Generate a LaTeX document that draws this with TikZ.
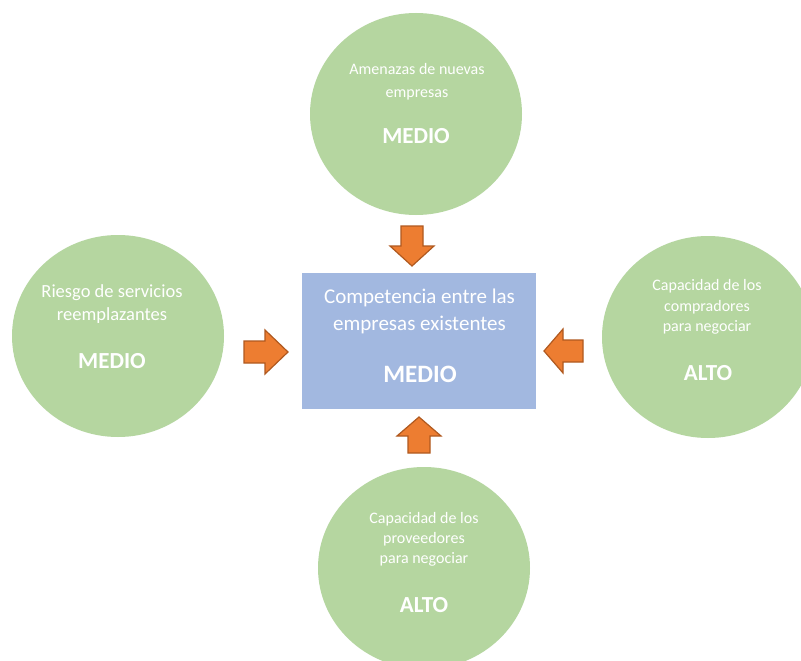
\documentclass[tikz,border=0pt]{standalone}
\usepackage{fontspec}
\setmainfont{Carlito}
\usetikzlibrary{shapes.geometric}
\definecolor{cgreen}{HTML}{B5D6A0}
\definecolor{cblue}{HTML}{A2B8E0}
\definecolor{corange}{HTML}{ED7D31}
\definecolor{cborder}{HTML}{B0591F}
\begin{document}
\begin{tikzpicture}[x=1pt,y=-1pt,
  force/.style={ellipse, fill=cgreen, minimum width=212pt, minimum height=202pt, inner sep=0pt},
  core/.style={rectangle, fill=cblue, minimum width=234pt, minimum height=136pt, inner sep=0pt},
  lbl/.style={text=white, anchor=base, inner sep=0pt},
  small/.style={lbl, font=\fontsize{16}{19}\selectfont},
  smallL/.style={lbl, font=\fontsize{18.5}{22}\selectfont},
  mid/.style={lbl, font=\fontsize{21}{25}\selectfont},
  big/.style={lbl, font=\fontsize{23}{27}\selectfont\bfseries},
  bigc/.style={lbl, font=\fontsize{25}{29}\selectfont\bfseries},
  blockarrow/.style={fill=corange, draw=cborder, line width=1.2pt, line join=miter}]
\clip (0,0) rectangle (801,661);
\fill[white] (0,0) rectangle (801,661);
% shapes
\node[force] (top) at (416,114) {};
\node[force] (left) at (118,336) {};
\node[force] (right) at (708,337) {};
\node[force] (bottom) at (424,568) {};
\node[core] (center) at (419,341) {};
% top texts
\node[small] (t1) at (417,75) {Amenazas de nuevas};
\node[small] (t2) at (417,97) {empresas};
\node[big] (t3) at (416,143) {MEDIO};
% left texts
\node[smallL] (l1) at (112,297) {Riesgo de servicios};
\node[smallL] (l2) at (112,320) {reemplazantes};
\node[big] (l3) at (112,368) {MEDIO};
% right texts
\node[small] (r1) at (707,290) {Capacidad de los};
\node[small] (r2) at (707,311) {compradores};
\node[small] (r3) at (707,331) {para negociar};
\node[big] (r4) at (708,380) {ALTO};
% bottom texts
\node[small] (b1) at (424,523) {Capacidad de los};
\node[small] (b2) at (424,543) {proveedores};
\node[small] (b3) at (424,563) {para negociar};
\node[big] (b4) at (424,612) {ALTO};
% center texts
\node[mid] (c1) at (419.5,303) {Competencia entre las};
\node[mid] (c2) at (419.5,330) {empresas existentes};
\node[bigc] (c3) at (420,382) {MEDIO};
% block arrows
\draw[blockarrow] (401,226) -- (423,226) -- (423,246) -- (434,246) -- (412,266) -- (390,246) -- (401,246) -- cycle;
\draw[blockarrow] (244,341) -- (265,341) -- (265,330) -- (288,352) -- (265,374) -- (265,363) -- (244,363) -- cycle;
\draw[blockarrow] (583,340) -- (563,340) -- (563,329) -- (544,351) -- (563,373) -- (563,362) -- (583,362) -- cycle;
\draw[blockarrow] (408,453) -- (408,436) -- (397,436) -- (419,417) -- (441,436) -- (430,436) -- (430,453) -- cycle;
\end{tikzpicture}
\end{document}
